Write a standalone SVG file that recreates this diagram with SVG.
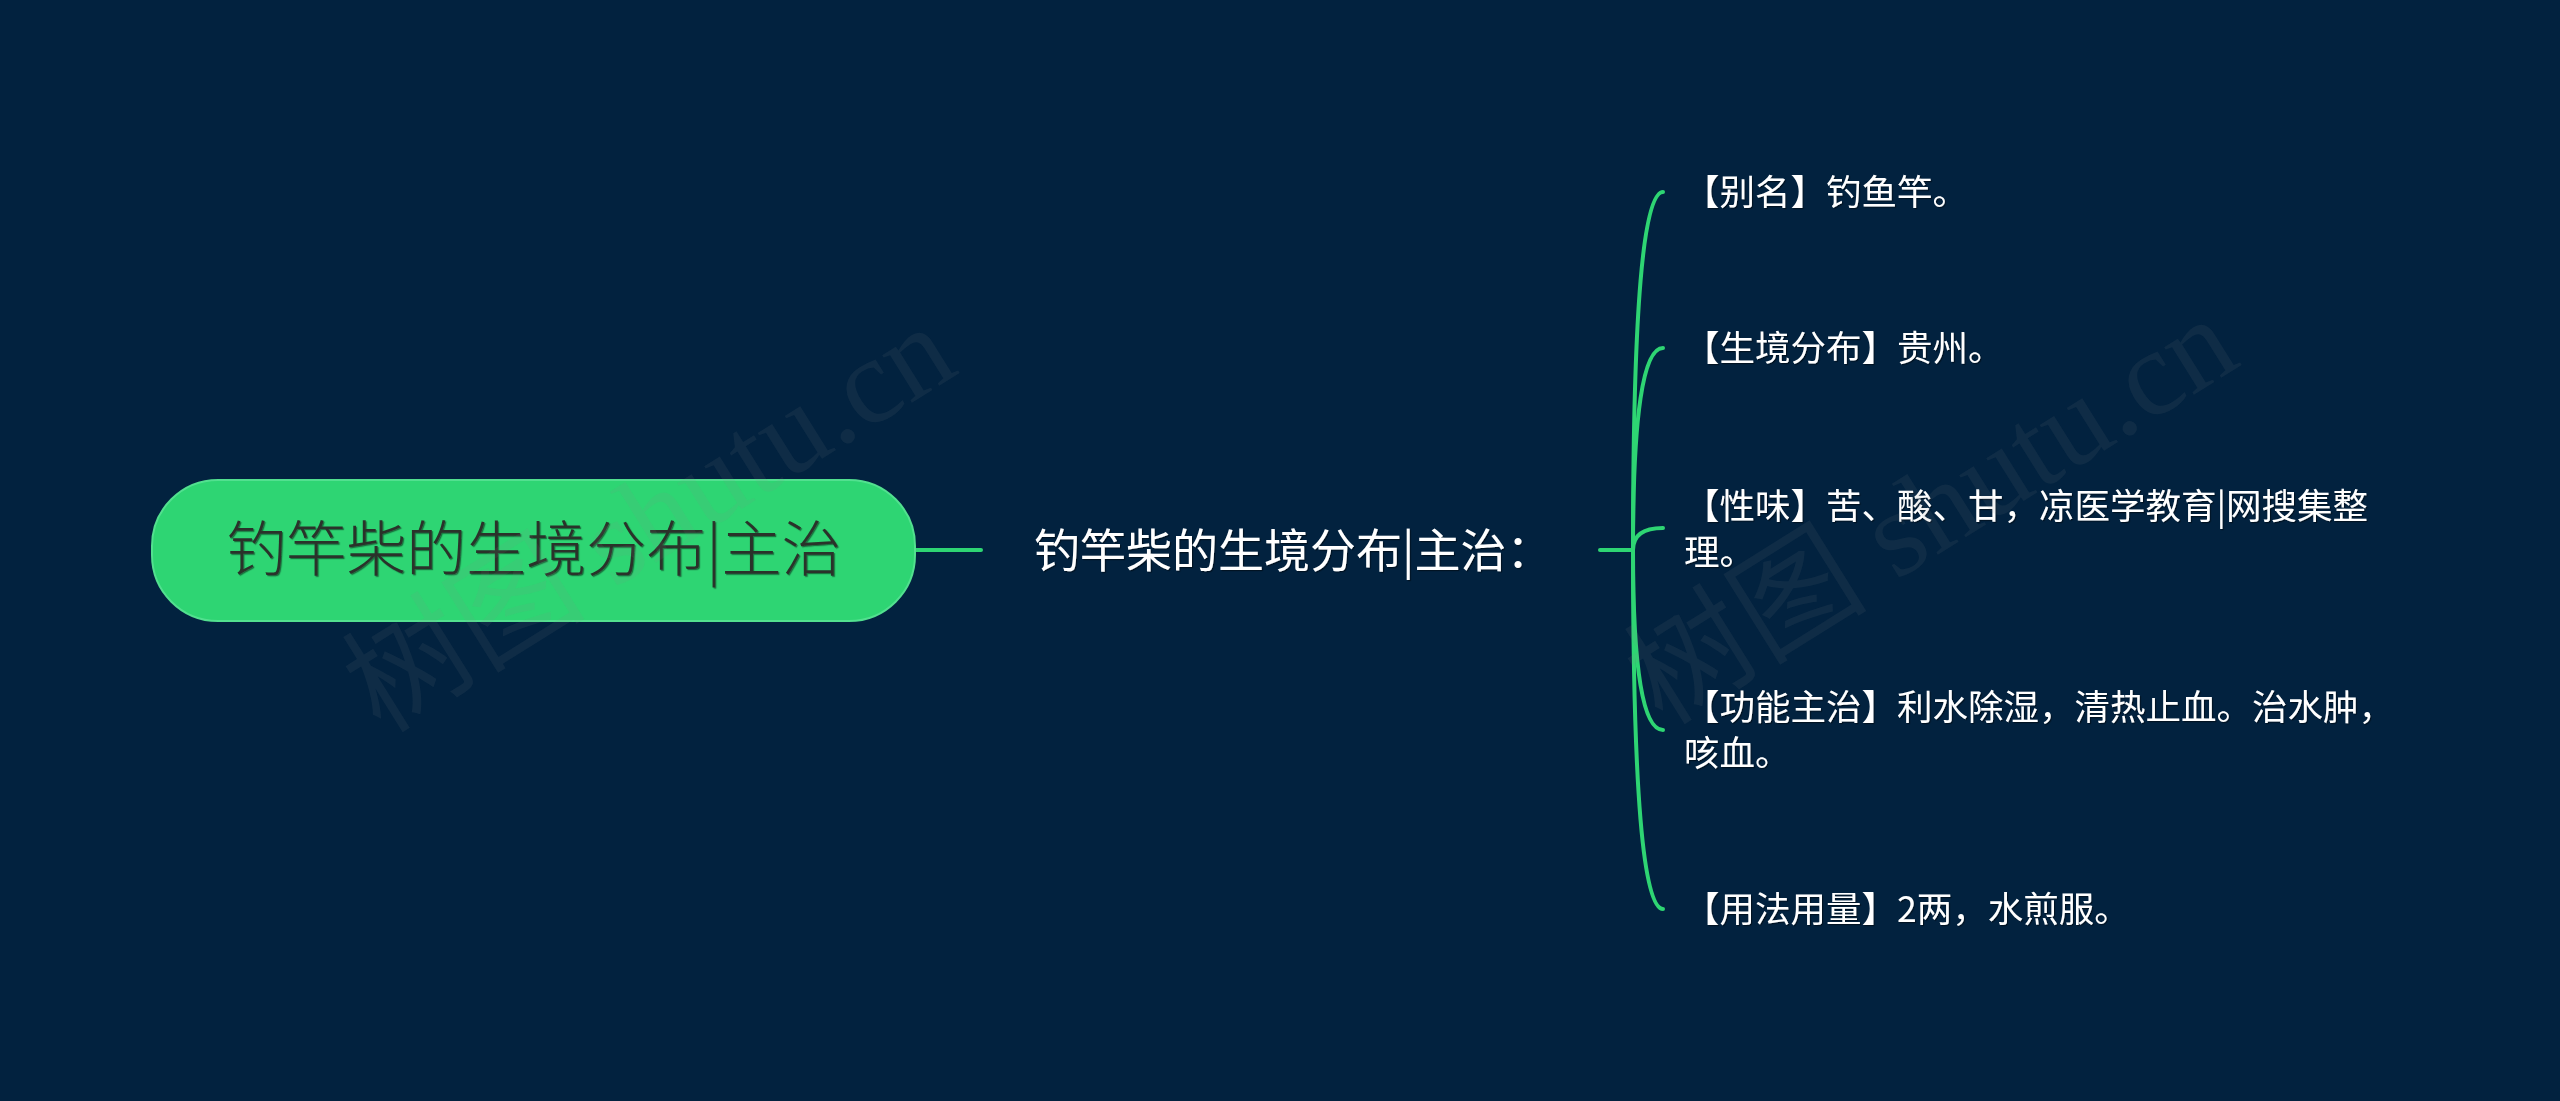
<svg xmlns="http://www.w3.org/2000/svg" width="2560" height="1101" viewBox="0 0 2560 1101">
  <defs>
    <filter id="sh" x="-5%" y="-20%" width="110%" height="140%">
      <feDropShadow dx="1.2" dy="1.2" stdDeviation="0.4" flood-color="#000000" flood-opacity="0.45"/>
    </filter>
    <style>
      .cjk { font-family: "Noto Sans CJK SC", "Noto Sans", sans-serif; font-weight: 400; }
      .root-text { font-size: 60px; fill: #2a332b; font-weight: 300; }
      .mid-text { font-size: 46px; fill: #ffffff; }
      .leaf-text { font-size: 35.5px; fill: #ffffff; }
      .link { fill: none; stroke: #2ed573; stroke-width: 4; stroke-linecap: round; }
      .wm { font-family: "Liberation Serif", "Noto Sans CJK SC", serif; font-size: 122px; fill: #8a8a8a; fill-opacity: 0.1; }
    </style>
  </defs>
  <rect x="0" y="0" width="2560" height="1101" fill="#02223f"/>

  <g id="connectors">
    <path class="link" d="M914 550 L981 550"/>
    <path class="link" d="M1600 550 L1633 550"/>
    <path class="link" d="M1633 550 Q1633 192 1663 192"/>
    <path class="link" d="M1633 550 Q1633 348 1663 348"/>
    <path class="link" d="M1633 550 Q1633 528 1663 528"/>
    <path class="link" d="M1633 550 Q1633 730 1663 730"/>
    <path class="link" d="M1633 550 Q1633 909 1663 909"/>
  </g>

  <g id="root">
    <rect x="152" y="480" width="763" height="141" rx="66" ry="66" fill="#2ed573" stroke="#52e08f" stroke-width="2"/>
    <text class="cjk root-text" x="534" y="571" text-anchor="middle" filter="url(#sh)">钓竿柴的生境分布|主治</text>
  </g>

  <g id="main-topic">
    <text class="cjk mid-text" x="1034" y="567" filter="url(#sh)">钓竿柴的生境分布|主治：</text>
  </g>

  <g id="leaf-1">
    <text class="cjk leaf-text" x="1684" y="205" filter="url(#sh)">【别名】钓鱼竿。</text>
  </g>
  <g id="leaf-2">
    <text class="cjk leaf-text" x="1684" y="361" filter="url(#sh)">【生境分布】贵州。</text>
  </g>
  <g id="leaf-3">
    <text class="cjk leaf-text" x="1684" y="519" filter="url(#sh)">【性味】苦、酸、甘，凉医学教育|网搜集整</text>
    <text class="cjk leaf-text" x="1684" y="565" filter="url(#sh)">理。</text>
  </g>
  <g id="leaf-4">
    <text class="cjk leaf-text" x="1684" y="720" filter="url(#sh)">【功能主治】利水除湿，清热止血。治水肿，</text>
    <text class="cjk leaf-text" x="1684" y="766" filter="url(#sh)">咳血。</text>
  </g>
  <g id="leaf-5">
    <text class="cjk leaf-text" x="1684" y="922" filter="url(#sh)">【用法用量】2两，水煎服。</text>
  </g>

  <g id="watermarks">
    <text class="wm" x="649" y="518" text-anchor="middle" dominant-baseline="central" transform="rotate(-32 649 518)">树图 shutu.cn</text>
    <text class="wm" x="1931" y="510" text-anchor="middle" dominant-baseline="central" transform="rotate(-32 1931 510)">树图 shutu.cn</text>
  </g>
</svg>
